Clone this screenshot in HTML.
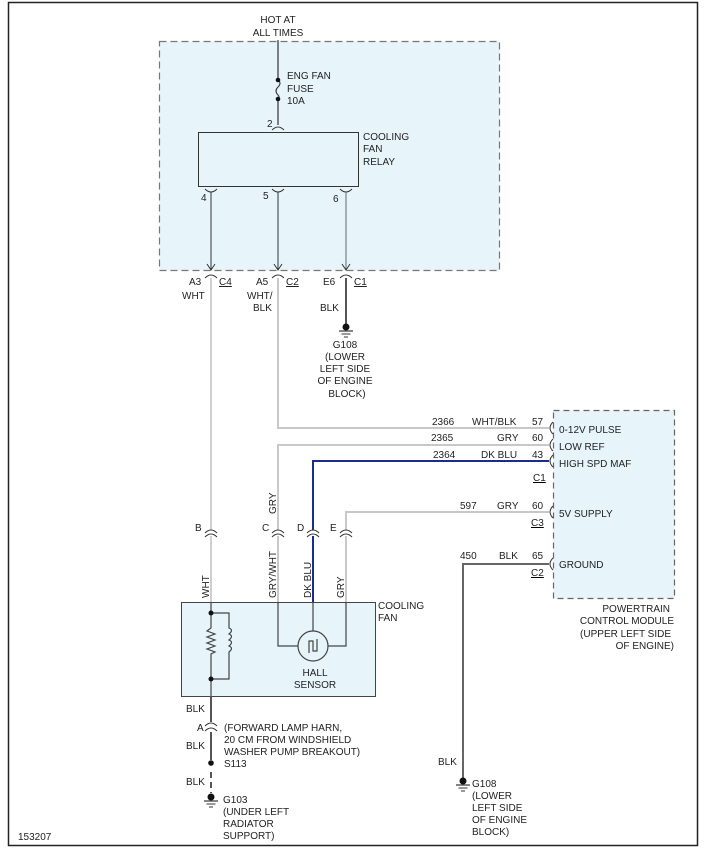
<!DOCTYPE html>
<html><head><meta charset="utf-8"><style>
html,body{margin:0;padding:0;background:#fff}
svg{display:block}
text{font-family:"Liberation Sans",Arial,sans-serif;font-size:10px;fill:#222}
</style></head><body>
<svg width="707" height="848" viewBox="0 0 707 848" xmlns="http://www.w3.org/2000/svg">
<defs>
<g id="gnd"><circle cx="0" cy="0" r="3.5" fill="#111"/><line x1="-7" y1="4" x2="7" y2="4" stroke="#333" stroke-width="1.2"/><line x1="-4.5" y1="7" x2="4.5" y2="7" stroke="#333" stroke-width="1"/><line x1="-2" y1="10" x2="2" y2="10" stroke="#333" stroke-width="1"/></g>
</defs>
<rect x="8.5" y="2.5" width="689" height="843" fill="none" stroke="#222" stroke-width="1.5"/>

<!-- fuse block -->
<rect x="159.5" y="41.5" width="340" height="229" fill="#e7f5fb" stroke="#777" stroke-width="1.2" stroke-dasharray="7,4"/>
<text x="278" y="23" text-anchor="middle">HOT AT</text>
<text x="278" y="36" text-anchor="middle">ALL TIMES</text>
<line x1="278" y1="40" x2="278" y2="125" stroke="#333" stroke-width="1.2"/>
<rect x="274" y="82" width="8" height="16" fill="#e7f5fb"/>
<path d="M278 80 q4 3 0 7 q-4 4 0 8 q2 2 0 4" fill="none" stroke="#333" stroke-width="1.1"/>
<circle cx="278" cy="80" r="2.3" fill="#111"/><circle cx="278" cy="99" r="2.3" fill="#111"/>
<text x="287" y="79">ENG FAN</text><text x="287" y="92">FUSE</text><text x="287" y="104">10A</text>
<text x="267" y="127">2</text>
<path d="M272 130 q6 -6 12 0" fill="none" stroke="#333" stroke-width="1"/>
<rect x="198.5" y="132.5" width="160" height="54" fill="#e7f5fb" stroke="#333" stroke-width="1"/>
<text x="363" y="140">COOLING</text><text x="363" y="152">FAN</text><text x="363" y="165">RELAY</text>

<g stroke="#333" stroke-width="1" fill="none">
<path d="M205 189 q6 6 12 0"/><path d="M272 189 q6 6 12 0"/><path d="M340 189 q6 6 12 0"/>
<line x1="211" y1="192" x2="211" y2="270"/><line x1="278" y1="192" x2="278" y2="270"/><line x1="346" y1="192" x2="346" y2="270" stroke="#666"/>
<path d="M207 264 l4 6 l4 -6"/><path d="M274 264 l4 6 l4 -6"/><path d="M342 264 l4 6 l4 -6"/>
<path d="M205 278 q6 -6 12 0"/><path d="M272 278 q6 -6 12 0"/><path d="M340 278 q6 -6 12 0"/>
</g>
<text x="201" y="201">4</text><text x="263" y="199">5</text><text x="333" y="202">6</text>
<text x="189" y="285">A3</text><text x="219" y="285" text-decoration="underline">C4</text>
<text x="256" y="285">A5</text><text x="286" y="285" text-decoration="underline">C2</text>
<text x="323" y="285">E6</text><text x="354" y="285" text-decoration="underline">C1</text>
<text x="182" y="299">WHT</text>
<text x="247" y="299">WHT/</text><text x="253" y="311">BLK</text>
<text x="320" y="311">BLK</text>
<line x1="346" y1="278" x2="346" y2="324" stroke="#555" stroke-width="2"/>
<use href="#gnd" x="346" y="327"/>
<g text-anchor="middle"><text x="345" y="348">G108</text><text x="345" y="360">(LOWER</text><text x="345" y="372">LEFT SIDE</text><text x="345" y="384">OF ENGINE</text><text x="347" y="397">BLOCK)</text></g>

<!-- wires -->
<g fill="none" stroke-width="2">
<path d="M211 278 V530 M211 536 V602" stroke="#cfcfcf"/>
<path d="M278 278 V428 H549" stroke="#c8c8c8"/>
<path d="M278 530 V445 H549" stroke="#c8c8c8"/>
<path d="M278 536 V602" stroke="#c8c8c8"/>
<path d="M313 530 V461 H549" stroke="#1a2d8f"/>
<path d="M313 536 V602" stroke="#1a2d8f"/>
<path d="M346 530 V512 H549" stroke="#c8c8c8"/>
<path d="M346 536 V602" stroke="#c8c8c8"/>
<path d="M549 564 H463 V778" stroke="#666"/>
</g>
<g stroke="#333" stroke-width="1" fill="none">
<path d="M205 533 q6 -6 12 0 M205 537 q6 -6 12 0"/>
<path d="M272 533 q6 -6 12 0 M272 537 q6 -6 12 0"/>
<path d="M307 533 q6 -6 12 0 M307 537 q6 -6 12 0"/>
<path d="M340 533 q6 -6 12 0 M340 537 q6 -6 12 0"/>
</g>
<text x="195" y="531">B</text><text x="262" y="531">C</text><text x="297" y="531">D</text><text x="330" y="531">E</text>
<g transform="translate(209,598) rotate(-90)"><text>WHT</text></g>
<g transform="translate(276,598) rotate(-90)"><text>GRY/WHT</text></g>
<g transform="translate(311,598) rotate(-90)"><text>DK BLU</text></g>
<g transform="translate(344,598) rotate(-90)"><text>GRY</text></g>
<g transform="translate(276,514) rotate(-90)"><text>GRY</text></g>

<text x="432" y="425">2366</text><text x="472" y="425">WHT/BLK</text><text x="532" y="425">57</text>
<text x="431" y="441">2365</text><text x="497" y="441">GRY</text><text x="532" y="441">60</text>
<text x="433" y="458">2364</text><text x="481" y="458">DK BLU</text><text x="532" y="458">43</text>
<text x="460" y="509">597</text><text x="497" y="509">GRY</text><text x="532" y="509">60</text>
<text x="460" y="559">450</text><text x="499" y="559">BLK</text><text x="532" y="559">65</text>

<!-- PCM -->
<rect x="553.5" y="410.5" width="121" height="188" fill="#e7f5fb" stroke="#666" stroke-width="1.2" stroke-dasharray="6,4"/>
<g stroke="#333" stroke-width="1" fill="none">
<path d="M553 422 q-6 6 0 12"/><path d="M553 439 q-6 6 0 12"/><path d="M553 455 q-6 6 0 12"/><path d="M553 506 q-6 6 0 12"/><path d="M553 558 q-6 6 0 12"/>
</g>
<text x="559" y="433">0-12V PULSE</text><text x="559" y="450">LOW REF</text><text x="559" y="467">HIGH SPD MAF</text>
<text x="559" y="517">5V SUPPLY</text><text x="559" y="568">GROUND</text>
<g text-decoration="underline"><text x="533" y="481">C1</text><text x="531" y="526">C3</text><text x="531" y="576">C2</text></g>
<g text-anchor="end"><text x="670" y="612">POWERTRAIN</text><text x="674" y="624">CONTROL MODULE</text><text x="671" y="637">(UPPER LEFT SIDE</text><text x="674" y="649">OF ENGINE)</text></g>

<!-- cooling fan -->
<rect x="181.5" y="602.5" width="194" height="94" fill="#e7f5fb" stroke="#444" stroke-width="1"/>
<text x="378" y="609">COOLING</text><text x="378" y="621">FAN</text>
<g stroke="#444" stroke-width="1.2" fill="none">
<path d="M211 602 V628 l-4 3 l8 3 l-8 3 l8 3 l-8 3 l8 3 l-8 3 l8 3 l-4 2 V730"/>
<path d="M211 613 H229 V628 q5 2 0 6 q5 2 0 6 q5 2 0 6 q5 2 0 6 V679 H211"/>
<path d="M278 602 V646 H298 M346 602 V646 H328 M313 602 V631"/>
<circle cx="313" cy="646" r="15"/>
<path d="M309 653 V641 h4 v10 h4 V639"/>
</g>
<circle cx="211" cy="613" r="2.5" fill="#111"/><circle cx="211" cy="679" r="2.5" fill="#111"/>
<text x="315" y="676" text-anchor="middle">HALL</text><text x="315" y="688" text-anchor="middle">SENSOR</text>

<line x1="211" y1="696" x2="211" y2="760" stroke="#555" stroke-width="2"/>
<rect x="207" y="722" width="8" height="10" fill="#fff"/>
<path d="M205 726 q6 -6 12 0 M205 731 q6 -6 12 0" stroke="#333" fill="none"/>
<text x="186" y="712">BLK</text><text x="197" y="731">A</text><text x="186" y="749">BLK</text><text x="186" y="785">BLK</text>
<text x="224" y="731">(FORWARD LAMP HARN,</text><text x="224" y="743">20 CM FROM WINDSHIELD</text><text x="224" y="755">WASHER PUMP BREAKOUT)</text>
<circle cx="211" cy="763" r="2.8" fill="#111"/><text x="224" y="767">S113</text>
<line x1="211" y1="772" x2="211" y2="793" stroke="#555" stroke-width="2" stroke-dasharray="6,4"/>
<use href="#gnd" x="211" y="797"/>
<text x="223" y="803">G103</text><text x="223" y="815">(UNDER LEFT</text><text x="223" y="827">RADIATOR</text><text x="223" y="839">SUPPORT)</text>

<text x="438" y="765">BLK</text>
<use href="#gnd" x="463" y="781"/>
<text x="472" y="787">G108</text><text x="472" y="799">(LOWER</text><text x="472" y="811">LEFT SIDE</text><text x="472" y="823">OF ENGINE</text><text x="472" y="835">BLOCK)</text>
<text x="18" y="840">153207</text>
</svg>
</body></html>
